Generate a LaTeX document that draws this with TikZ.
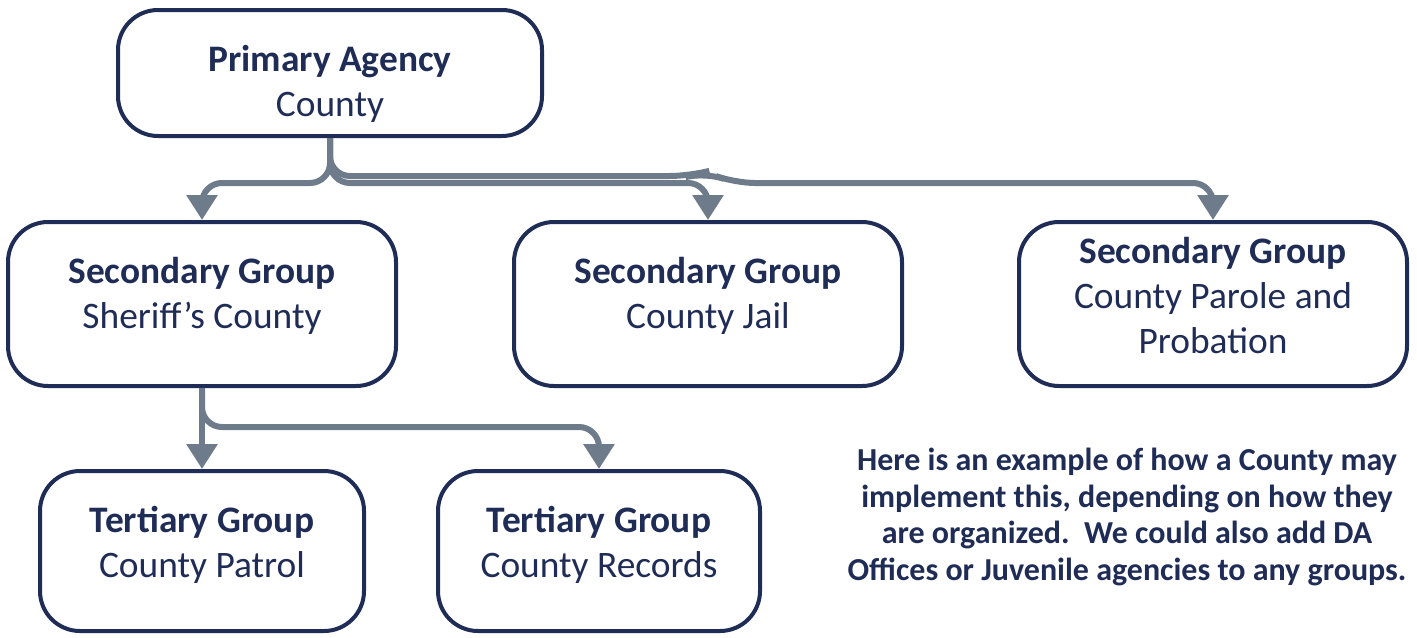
\documentclass[tikz,border=0pt]{standalone}
\usepackage{fontspec}
\setmainfont{Carlito}
\usetikzlibrary{arrows.meta}
\definecolor{navy}{HTML}{1F2C56}
\definecolor{slate}{HTML}{6E7B8B}
\tikzstyle{box}=[rectangle, draw=navy, line width=2pt, rounded corners=20pt, inner sep=1pt, align=center, text=navy, font=\fontsize{18.7}{22.5}\selectfont]
\tikzstyle{conn}=[draw=slate, line width=3pt, rounded corners=10pt, -{Triangle[width=15pt,length=12.5pt]}]

\begin{document}
\begin{tikzpicture}[x=0.5pt, y=-0.5pt]

\useasboundingbox (0,0) rectangle (1417,637);

\node[box, minimum width=212pt, minimum height=63pt] (prim) at (330,73) {\textbf{Primary Agency}\\County\\[-30.5pt]};

\node[box, minimum width=194pt, minimum height=82pt] (sec1) at (202,304) {\textbf{Secondary Group}\\Sheriff’s County\\[-11pt]};
\node[box, minimum width=194pt, minimum height=82pt] (sec2) at (708,304) {\textbf{Secondary Group}\\County Jail\\[-11pt]};
\node[box, minimum width=194pt, minimum height=82pt] (sec3) at (1213,304) {\textbf{Secondary Group}\\County Parole and\\Probation\\[-13.5pt]};

\node[box, minimum width=162pt, minimum height=80pt] (ter1) at (202,551) {\textbf{Tertiary Group}\\County Patrol\\[-13pt]};
\node[box, minimum width=161pt, minimum height=80pt] (ter2) at (599,551) {\textbf{Tertiary Group}\\County Records\\[-13pt]};

\node[align=center, text=navy, font=\fontsize{16}{18.2}\selectfont\bfseries] (note) at (1127,517) {Here is an example of how a County may\\implement this, depending on how they\\are organized.\ \ We could also add DA\\Offices or Juvenile agencies to any groups.};

\draw[conn] (prim.south) |- (sec1.north |- 0,183) -- (sec1.north);
\draw[conn] (prim.south) |- (sec2.north |- 0,183) -- (sec2.north);
\draw[conn] (prim.south) |- (690,176) -- (705,172) -- (735,183) -| (sec3.north);
\draw[conn] (sec1.south) -- (ter1.north);
\draw[conn] (sec1.south) |- (ter2.north |- 0,427) -- (ter2.north);

\end{tikzpicture}
\end{document}
